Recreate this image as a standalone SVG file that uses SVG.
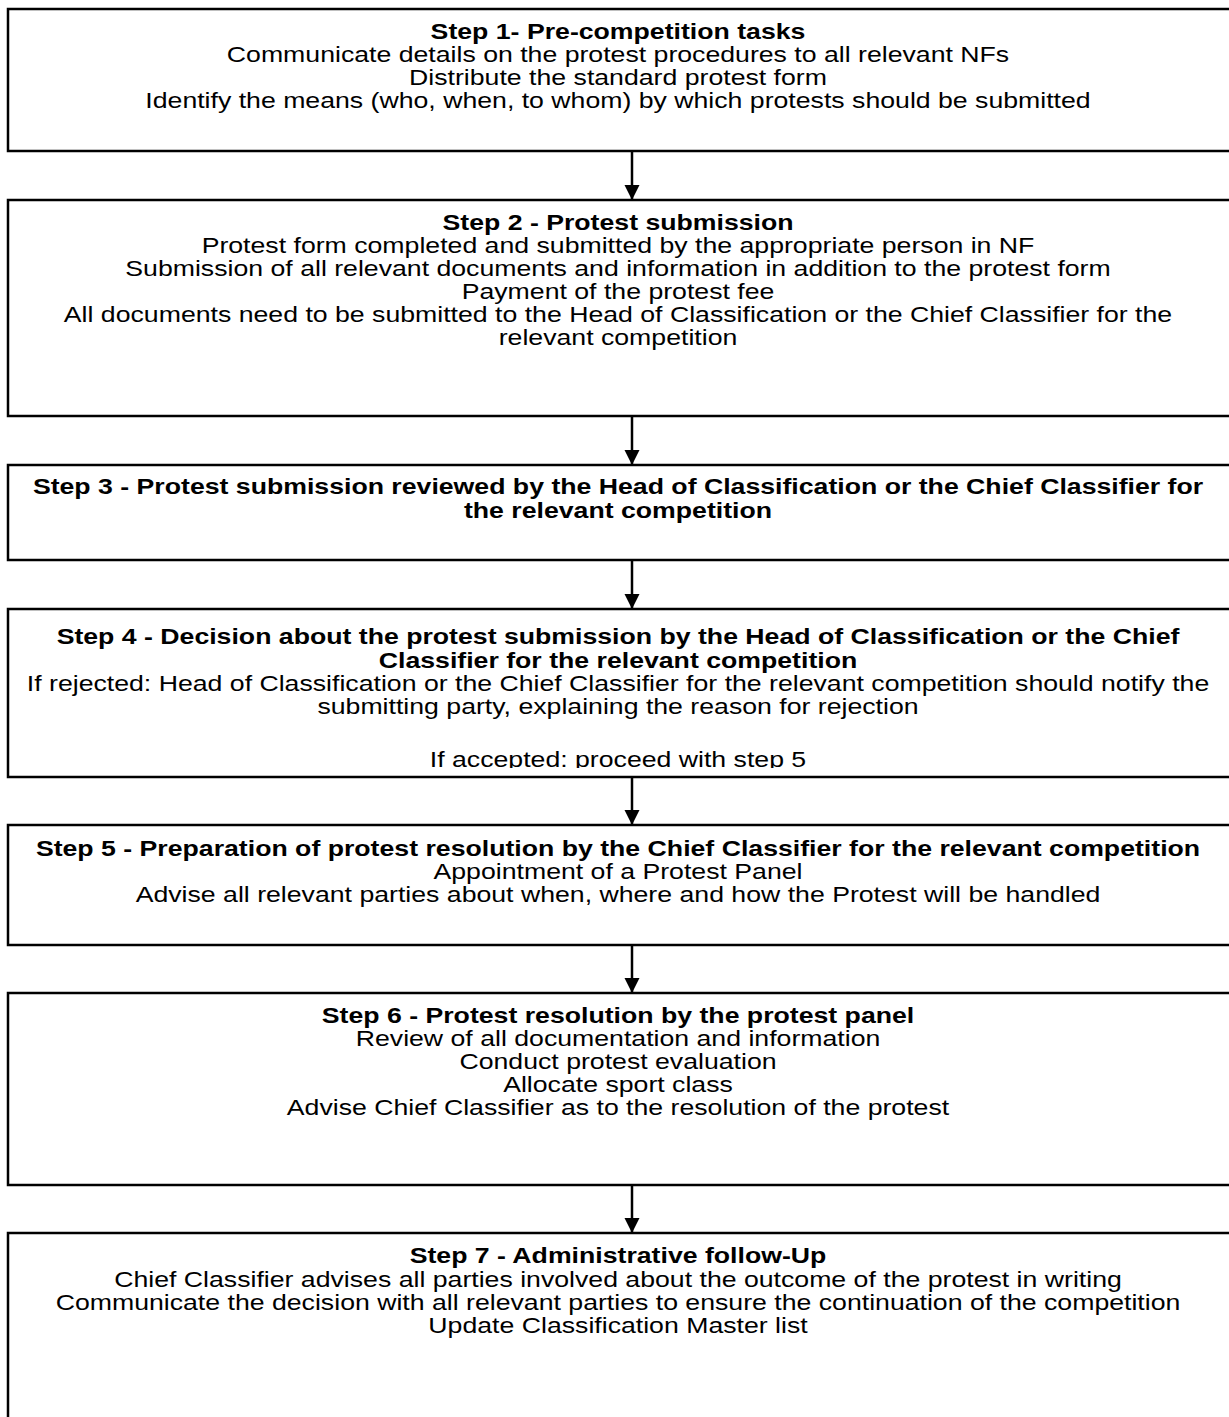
<svg xmlns="http://www.w3.org/2000/svg" width="1229" height="1417" viewBox="0 0 1229 1417">
<style>
.box{fill:#fff;stroke:#000;stroke-width:2.5}
text{font-family:"Liberation Sans",Arial,sans-serif;font-size:22px;fill:#000;text-anchor:middle}
.b{font-weight:bold}
.c{stroke:#000;stroke-width:2.5;fill:none}
</style>
<defs>
<marker id="ah" markerUnits="userSpaceOnUse" markerWidth="16" markerHeight="16" refX="15" refY="7.5" orient="auto">
<path d="M0,0 L15,7.5 L0,15 Z" fill="#000"/>
</marker>
<clipPath id="c4"><rect x="-600" y="609" width="1300" height="159"/></clipPath>
</defs>
<rect width="1229" height="1417" fill="#fff"/>
<g id="connectors">
<line class="c" x1="632" y1="151" x2="632" y2="200" marker-end="url(#ah)"/>
<line class="c" x1="632" y1="416" x2="632" y2="465" marker-end="url(#ah)"/>
<line class="c" x1="632" y1="560" x2="632" y2="609" marker-end="url(#ah)"/>
<line class="c" x1="632" y1="777" x2="632" y2="825" marker-end="url(#ah)"/>
<line class="c" x1="632" y1="945" x2="632" y2="993" marker-end="url(#ah)"/>
<line class="c" x1="632" y1="1185" x2="632" y2="1233" marker-end="url(#ah)"/>
</g>
<g id="step1">
<rect class="box" x="8" y="9" width="1235" height="142"/>
<g transform="translate(618,0) scale(1.212,1)">
<text class="b" x="0" y="39">Step 1- Pre-competition tasks</text>
<text x="0" y="62">Communicate details on the protest procedures to all relevant NFs</text>
<text x="0" y="85">Distribute the standard protest form</text>
<text x="0" y="108">Identify the means (who, when, to whom) by which protests should be submitted</text>
</g>
</g>
<g id="step2">
<rect class="box" x="8" y="200" width="1235" height="216"/>
<g transform="translate(618,0) scale(1.212,1)">
<text class="b" x="0" y="230">Step 2 - Protest submission</text>
<text x="0" y="253">Protest form completed and submitted by the appropriate person in NF</text>
<text x="0" y="276">Submission of all relevant documents and information in addition to the protest form</text>
<text x="0" y="299">Payment of the protest fee</text>
<text x="0" y="322">All documents need to be submitted to the Head of Classification or the Chief Classifier for the</text>
<text x="0" y="345">relevant competition</text>
</g>
</g>
<g id="step3">
<rect class="box" x="8" y="465" width="1235" height="95"/>
<g transform="translate(618,0) scale(1.212,1)">
<text class="b" x="0" y="494">Step 3 - Protest submission reviewed by the Head of Classification or the Chief Classifier for</text>
<text class="b" x="0" y="518">the relevant competition</text>
</g>
</g>
<g id="step4">
<rect class="box" x="8" y="609" width="1235" height="168"/>
<g transform="translate(618,0) scale(1.212,1)">
<g clip-path="url(#c4)">
<text class="b" x="0" y="644">Step 4 - Decision about the protest submission by the Head of Classification or the Chief</text>
<text class="b" x="0" y="668">Classifier for the relevant competition</text>
<text x="0" y="691">If rejected: Head of Classification or the Chief Classifier for the relevant competition should notify the</text>
<text x="0" y="714">submitting party, explaining the reason for rejection</text>
<text x="0" y="767">If accepted: proceed with step 5</text>
</g>
</g>
</g>
<g id="step5">
<rect class="box" x="8" y="825" width="1235" height="120"/>
<g transform="translate(618,0) scale(1.212,1)">
<text class="b" x="0" y="856">Step 5 - Preparation of protest resolution by the Chief Classifier for the relevant competition</text>
<text x="0" y="879">Appointment of a Protest Panel</text>
<text x="0" y="902">Advise all relevant parties about when, where and how the Protest will be handled</text>
</g>
</g>
<g id="step6">
<rect class="box" x="8" y="993" width="1235" height="192"/>
<g transform="translate(618,0) scale(1.212,1)">
<text class="b" x="0" y="1023">Step 6 - Protest resolution by the protest panel</text>
<text x="0" y="1046">Review of all documentation and information</text>
<text x="0" y="1069">Conduct protest evaluation</text>
<text x="0" y="1092">Allocate sport class</text>
<text x="0" y="1115">Advise Chief Classifier as to the resolution of the protest</text>
</g>
</g>
<g id="step7">
<rect class="box" x="8" y="1233" width="1235" height="200"/>
<g transform="translate(618,0) scale(1.212,1)">
<text class="b" x="0" y="1263">Step 7 - Administrative follow-Up</text>
<text x="0" y="1287">Chief Classifier advises all parties involved about the outcome of the protest in writing</text>
<text x="0" y="1310">Communicate the decision with all relevant parties to ensure the continuation of the competition</text>
<text x="0" y="1333">Update Classification Master list</text>
</g>
</g>
</svg>
